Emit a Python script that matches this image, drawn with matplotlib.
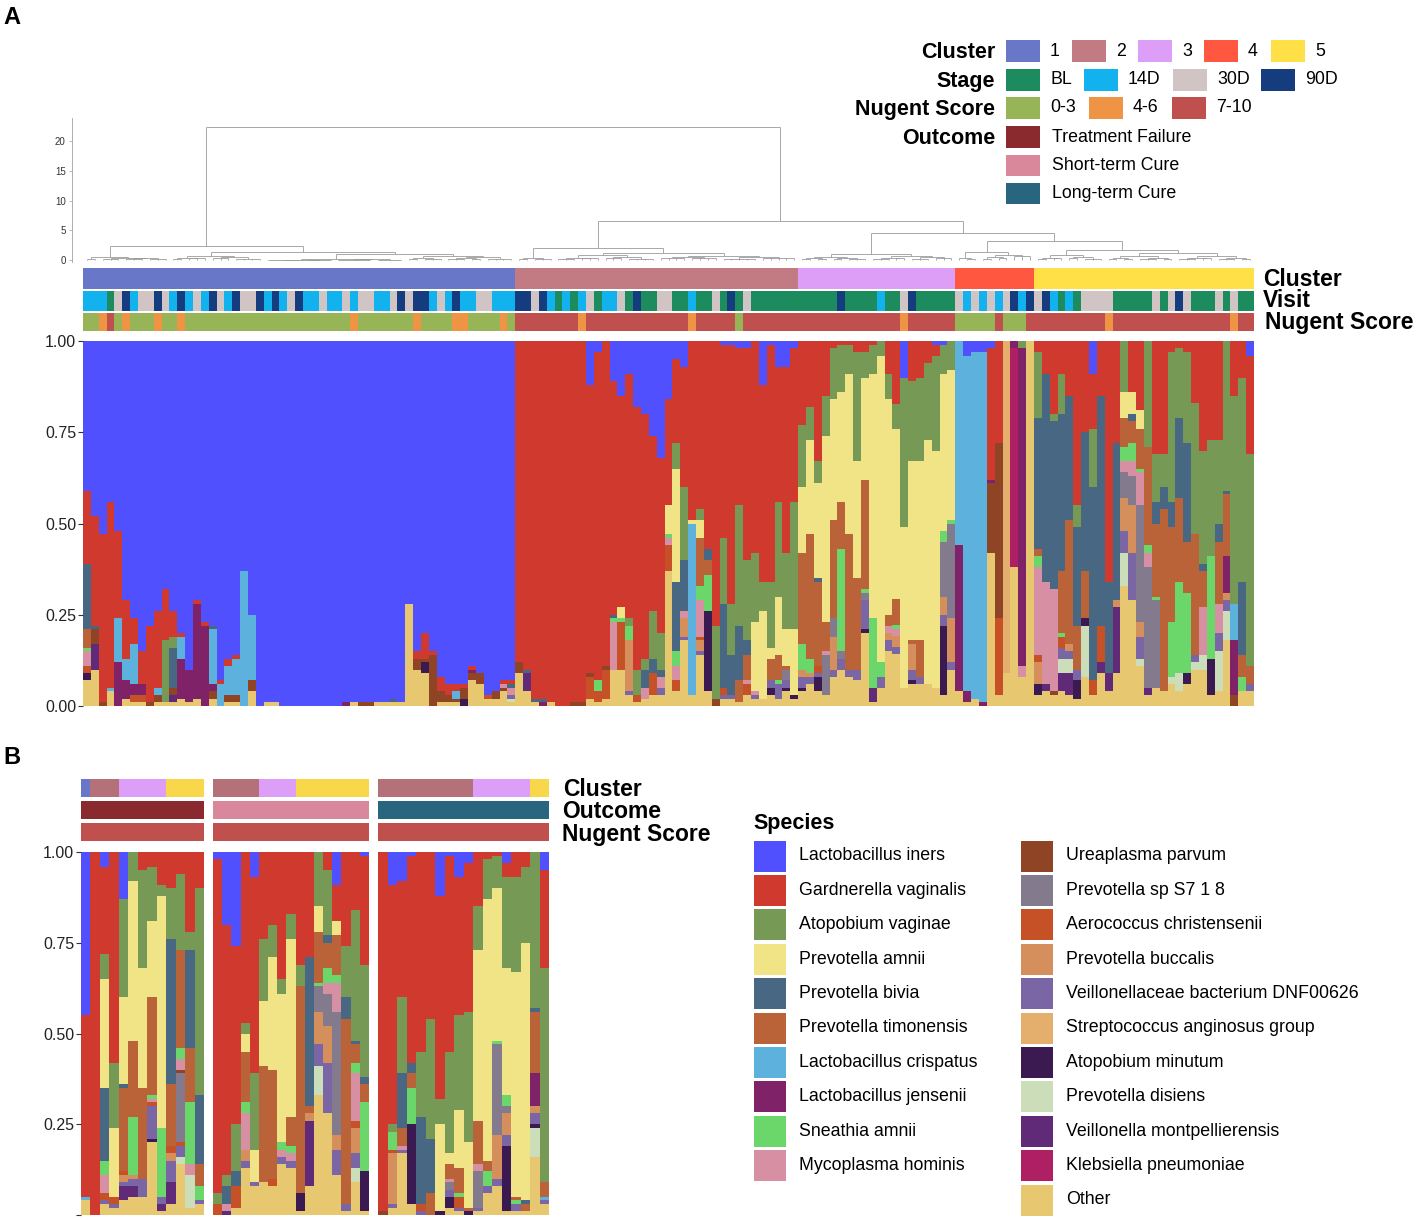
import re
import numpy as np
import matplotlib.pyplot as plt
from matplotlib.patches import Rectangle

plt.rcParams['font.family'] = ['Liberation Sans', 'DejaVu Sans']

W, H = 1417, 1220

# ---------------- data ----------------
# legend order = top of the stack first
species = ["Lactobacillus iners", "Gardnerella vaginalis", "Atopobium vaginae", "Prevotella amnii",
           "Prevotella bivia", "Prevotella timonensis", "Lactobacillus crispatus",
           "Lactobacillus jensenii", "Sneathia amnii", "Mycoplasma hominis", "Ureaplasma parvum",
           "Prevotella sp S7 1 8", "Aerococcus christensenii", "Prevotella buccalis",
           "Veillonellaceae bacterium DNF00626", "Streptococcus anginosus group",
           "Atopobium minutum", "Prevotella disiens", "Veillonella montpellierensis",
           "Klebsiella pneumoniae", "Other"]
codes = ["LI", "GV", "AV", "PA", "PB", "PT", "LC", "LJ", "SA", "MH", "UP", "PS", "AC", "BU",
         "VB", "SG", "AM", "PD", "VM", "KP", "OT"]
species_colors = ["#5050FF", "#D0392E", "#769A56", "#F1E486", "#476782", "#BA6238", "#5DB1DD",
                  "#802268", "#6BD76B", "#D68FA3", "#8F4525", "#837B8D", "#C75127", "#D58F5C",
                  "#7A65A5", "#E4AF6C", "#3A1A51", "#CCDDBA", "#612A79", "#AE1F63", "#E7C76F"]

# panel A samples (percent per species), in dendrogram order, per cluster
cluster1 = ["OT7 AM2 AC2 MH4 SA1 PT5 PB18 GV20 LI41", "OT10 VM7 UP4 PB1 GV30 LI48", "UP1 GV46 LI53",
            "OT4 LC1 GV51 LI44", "LJ12 LC12 GV24 LI52", "OT2 LJ5 LC6 GV16 LI71",
            "OT1 AC2 LJ3 LC11 GV7 LI76", "OT1 AC2 LJ3 GV9 LI85", "UP1 GV21 LI78",
            "OT1 UP2 LC2 GV21 LI74", "OT1 AV17 GV14 LI68", "OT1 VM2 UP2 PB11 AV3 GV7 LI74",
            "OT2 LJ11 LC6 GV1 LI80", "OT1 LJ9 LI90", "OT2 LJ26 GV1 LI71", "LJ22 GV1 LI77",
            "OT2 UP2 LJ2 LC15 PB1 LI78", "LC6 GV1 LI93", "OT1 UP2 LC8 GV2 LI87",
            "OT1 UP2 LC10 GV1 LI86", "LC37 LI63", "OT4 UP3 LC18 LI75",
            "LI100", "OT1 LI99", "OT1 LI99", "LI100", "LI100", "LI100", "LI100", "LI100", "LI100",
            "LI100", "LI100", "LJ1 LI99", "OT1 LI99", "UP1 LI99", "UP1 LI99", "OT1 LI99",
            "OT1 LI99", "OT1 PB1 LI98", "OT1 LI99", "OT28 LI72", "OT10 UP3 GV2 LI85",
            "OT9 AM3 UP1 GV7 LI80", "UP14 GV1 LI85", "OT1 UP3 GV4 LI92", "OT1 UP2 GV3 LI94",
            "OT1 UP1 LC2 GV2 LI94", "AM2 UP3 GV1 LI94", "OT7 UP2 LJ1 GV1 LI89", "OT6 UP3 LI91",
            "OT2 AC1 LI97", "OT2 UP2 LI96", "OT4 MH1 UP1 GV1 LI93",
            "OT1 PD1 MH2 VB1 PB1 GV1 LI93"]
cluster2 = ["OT9 UP3 GV88", "OT4 VM5 PB1 GV90", "OT1 PB1 GV98", "PB1 LJ1 GV98", "OT1 GV99",
            "GV100", "GV100", "UP1 GV99", "UP1 GV99", "OT2 AC6 UP1 GV79 LI12",
            "OT1 AC3 SA3 GV90 LI3", "OT2 AC8 UP1 GV89", "OT10 MH13 PB1 SA1 GV64 LI11",
            "OT10 AC13 SA1 PA3 GV58 LI15", "OT3 VB1 BU14 SA4 AV2 GV67 LI9",
            "OT1 AC2 AV7 GV72 LI18", "OT2 MH3 PB5 AV3 GV67 LI20", "OT3 AC6 PB4 AV13 GV48 LI26",
            "OT3 VB2 MH3 PB2 AV10 GV48 LI32", "OT37 AC7 MH2 SA1 PA8 GV29 LI16",
            "OT4 AC3 MH4 SA4 PB19 PA31 AV7 GV23 LI5", "OT18 VB1 BU5 MH2 PB14 AV20 GV33 LI7",
            "OT3 LC47 PA1 GV49", "OT14 VB1 BU3 AC1 MH10 SA4 PT13 PA5 AV3 GV46",
            "OT4 AM22 SA10 PT4 PB3 GV57", "UP2 AV20 GV78", "OT2 VB1 AC2 PB23 AV18 GV53 LI1",
            "OT2 VB1 PB11 AV14 GV71 LI1", "OT1 PT6 PB15 AV33 GV43 LI2",
            "OT3 AC3 MH1 PT7 PB4 AV22 GV58 LI2", "OT2 VB1 MH1 PA19 AV19 GV58",
            "OT2 PA24 AV8 GV54 LI12", "OT3 AM2 VB2 PT6 PA3 AV18 GV65 LI1",
            "OT2 VB4 SA1 PT7 PA16 AV26 GV37 LI7", "OT4 AM1 VB2 PS3 PT1 PA10 AV21 GV51 LI7",
            "OT2 AM1 PA18 AV35 GV42 LI2"]
cluster3 = ["OT4 AM1 VB3 BU2 SA7 PT25 PA18 AV17 GV23", "OT6 VB2 BU1 SA4 PT34 PA26 AV9 GV18",
            "OT4 AM4 VB1 AC2 PT23 PB1 PA26 AV6 GV33", "OT3 PS11 MH1 PT8 PA51 AV11 GV15",
            "OT8 VB2 BU9 PS5 PT27 PA33 AV14 GV2", "OT10 VB3 PS2 SA28 PT13 PA30 AV13 GV1",
            "OT8 VB2 PT37 PA44 AV8 GV1", "OT7 VB3 PT25 PA32 AV30 GV3",
            "OT20 AM1 VB8 PS2 SA1 PT30 PA28 AV7 GV3", "OT1 VM4 SA19 PA67 AV8 GV1",
            "OT5 VB3 SA4 PA84 AV4", "OT15 VB3 BU2 MH2 PT3 PA59 AV7 GV9",
            "OT14 VB2 BU3 MH2 SA1 PT7 PA46 AV7 GV17", "OT5 PA44 AV41 LI10",
            "OT6 AM1 VB3 BU7 PT1 PA49 AV22 GV11", "OT6 VB2 PT10 PA49 AV23 GV10",
            "OT6 PA67 AV21 GV6", "OT5 PA65 AV26 GV3 LI1",
            "OT3 AM19 VB3 BU5 PS15 SA3 PA43 AV8 LI1", "OT10 VB2 BU12 PS26 SA1 PA41 AV8"]
cluster4 = ["OT4 LJ40 LC56", "OT1 LJ3 LC92 LI4", "OT2 LC95 LI3", "LJ1 LC96 LI3",
            "OT42 UP19 LJ1 GV36 LI2", "OT3 AC21 UP48 GV28", "OT9 SG91", "OT38 KP60 LJ2",
            "OT8 MH3 LJ87 AV2", "OT100"]
cluster5 = ["OT3 AM3 BU6 AC2 MH24 SA3 PT2 PB36 AV18 GV3", "OT4 VM2 MH28 PB57 GV9",
            "OT3 UP1 MH28 PB46 AV2 GV20", "OT4 VM5 PD4 VB3 AC3 SA1 PT17 PB43 AV11 GV9",
            "OT3 VM6 PD4 VB2 BU2 PT34 PB34 GV15", "OT2 AM5 VB3 PT12 PB27 AV6 GV45",
            "OT8 AM2 PD14 PT13 PB38 GV25", "OT3 AC4 PB53 AV16 GV15 LI9",
            "OT9 VM3 AC10 PB63 GV15", "OT4 VM5 PB25 GV66", "OT9 VM18 BU2 PB43 GV28",
            "OT33 PD9 VB6 BU9 PS7 MH3 SA4 PT8 PA7 AV14",
            "OT29 VB13 BU13 PS8 MH4 SA5 PT6 PB2 PA6 GV14",
            "OT11 PD2 VB6 BU4 PS32 MH9 SA1 PT11 PA5 GV19", "OT3 VM2 PS33 MH4 SA2 PT27 AV29",
            "OT5 PS24 SA1 PT20 PB6 AV13 GV31", "OT4 PT50 PB6 AV9 GV31",
            "OT6 PD2 SA15 PT26 PB7 AV41 GV3", "OT4 PD5 SA25 PT23 PB22 AV19 GV2",
            "OT6 AM3 SA22 PT14 PB27 AV25 GV3", "OT10 PD2 VB2 PT33 AV36 GV17",
            "OT10 PD4 MH13 PT10 PB2 AV31 GV30", "OT3 AM10 SA28 AV32 GV27",
            "OT4 PD11 VB5 MH8 PT17 PB5 AV23 GV27", "OT18 PD8 VB3 BU2 LJ10 PT17 PB1 AV41",
            "UP3 LJ15 LC10 AV57 GV15", "OT4 SA4 PT6 PB20 AV56 GV10", "OT4 VB2 PT5 AV58 GV27 LI4"]

# visit: b=BL f=14D t=30D n=90D ; nugent: g=0-3 o=4-6 r=7-10
visit_a = ("fffbtnfttntfnftfntfnttnfnftnfftfftfttfftntnnftfnffttfff"
           "nntnfbfbftbfftbnbbttbbfbbtbnbtbbbbbb"
           "bbbbbnbbbbfbbtnbbbbb"
           "tftftftnfn"
           "tnfbfbttttbbbbbtbtntbbbtbtbb")
nugent_a = ("ggorgogggoggo" + "g" * 21 + "o" + "g" * 7 + "o" + "gggg" + "oo" + "gggg" + "og"
            + "r" * 8 + "o" + "r" * 13 + "o" + "r" * 5 + "g" + "r" * 7
            + "r" * 13 + "o" + "r" * 6
            + "gggggrgggr"
            + "r" * 9 + "o" + "r" * 15 + "o" + "rr")

# dendrogram: (height, [children]) or (height, n leaves joined at that height)
tree = (22.4, [
    (2.35, [
        (0.5, [(0.25, 2), (0.4, [(0.2, 3), (0.3, [(0.15, 3), (0.2, 3)])])]),
        (1.3, [
            (0.75, [(0.4, [(0.2, 2), (0.3, 3)]), (0.5, [(0.3, 3), (0.25, 4)])]),
            (1.0, [(0.25, [(0.05, [(0.02, 5), (0.03, 4)]), (0.1, [(0.04, 5), (0.05, 4)])]),
                   (0.6, [(0.3, [(0.2, 2), (0.15, 3)]),
                          (0.45, [(0.3, [(0.2, 3), (0.15, 2)]), (0.2, 4)])])])])]),
    (6.55, [
        (2.0, [(0.4, [(0.1, 2), (0.2, 3)]),
               (1.2, [(0.8, [(0.4, [(0.2, 3), (0.3, 3)]), (0.5, [(0.3, 3), (0.25, 4)])]),
                      (0.7, [(0.5, [(0.3, 4), (0.3, 4)]), (0.5, [(0.2, 5), (0.3, 5)])])])]),
        (4.5, [
            (1.0, [(0.5, [(0.3, [(0.15, 2), (0.2, 2)]), (0.35, [(0.2, 2), (0.25, 3)])]),
                   (0.6, [(0.4, [(0.2, 3), (0.3, 2)]), (0.45, [(0.2, 3), (0.3, 3)])])]),
            (3.2, [
                (1.3, [(0.3, [(0.0, 1), (0.2, 2)]),
                       (0.9, [(0.5, [(0.2, 2), (0.3, 2)]), (0.6, 3)])]),
                (1.7, [(0.8, [(0.4, [(0.2, 2), (0.3, 2)]), (0.5, [(0.3, 2), (0.2, 3)])]),
                       (1.1, [(0.6, [(0.3, [(0.15, 2), (0.2, 2)]), (0.4, [(0.2, 3), (0.15, 2)])]),
                              (0.7, [(0.4, [(0.2, 3), (0.3, 2)]), (0.3, [(0.2, 3), (0.1, 2)])])])])])])])])

# panel B: three outcome groups
group_fail = ["OT4 LC1 GV50 LI45", "GV100", "OT3 VB1 AC2 MH5 SA4 PB20 PA30 AV7 GV24 LI4",
              "OT2 VB1 AC2 PA19 AV18 GV58", "OT4 VM4 VB1 BU2 AC1 PT23 PB1 PA24 AV27 LI13",
              "OT5 VM3 VB2 BU1 SA16 PT21 PA44 AV8", "OT5 VB5 PT25 PA33 AV27 GV5",
              "OT20 AM1 VB9 AC1 MH1 SA1 PT27 PA21 AV15 GV4", "OT1 VM2 VB2 SA19 PA64 AV3 GV9",
              "OT3 VM6 VB6 BU2 AC2 PT17 PB40 AV14 GV10",
              "OT14 PD2 VB3 AC1 PS19 UP1 MH3 SA3 PT27 AV21 GV6",
              "OT2 PD9 MH3 SA17 PT15 PB27 AV5 GV22", "OT3 VB1 SA4 PT6 PB19 AV57 GV10"]
group_short = ["AC3 AV3 GV92 LI2", "VM1 MH2 PB5 AV3 GV69 LI20", "OT2 AC6 PB4 AV13 GV49 LI26",
               "OT13 VB2 BU3 MH10 SA3 PT14 PA5 AV3 GV47", "OT8 VB1 PA9 AV21 GV54 LI7",
               "OT9 PT32 PA18 AV17 GV24", "OT8 AC2 PT30 PA31 AV9 GV20",
               "OT14 VB2 MH2 SA2 PA41 AV4 GV35", "OT13 VB2 MH2 SA2 PT8 PA49 AV7 GV17",
               "OT1 AM5 PT57 AV6 GV31", "OT8 VM18 BU2 PT2 PB41 GV29",
               "OT33 PD8 VB6 BU9 PS7 SA1 PT14 PA7 AV15",
               "OT28 VB14 BU10 PS9 MH3 SA4 PT7 PB2 AV18 GV5",
               "OT11 VB7 BU4 PS34 MH8 SA2 PT11 PA4 GV10 LI9", "OT1 VB2 PT51 PB6 AV14 GV26",
               "OT9 PD4 VB4 BU7 AC2 MH13 SA3 PB1 PT5 AV36 GV16",
               "OT1 AM11 SA19 PT5 PB2 AV31 GV30 LI1"]
group_long = ["UP1 GV99", "OT2 VB1 BU14 AC1 SA5 AV2 GV66 LI9",
              "OT17 VB1 PT5 MH1 PB15 AV21 GV32 LI8", "OT3 AM22 SA10 PT4 PB3 GV57 LI1",
              "VB1 AC2 PB24 AV18 GV55", "PT6 PB15 AV33 GV46", "AM1 PA24 AV7 GV56 LI12",
              "OT2 AM3 VB2 PS2 MH1 PT4 PA3 AV28 GV54 LI1",
              "OT1 VB1 AC3 SA1 PT7 PA16 AV26 GV38 LI7", "AM1 PT1 PA18 AV36 GV41 LI3",
              "OT1 VB1 PS10 MH2 PT12 PA47 AV12 GV15", "OT6 VB2 SA4 PT3 PA72 AV11 GV2",
              "OT8 VB2 BU12 PS25 SA1 PA42 AV9 GV1",
              "OT1 AM18 VB3 BU6 PS2 SA3 PA35 AV25 GV4 LI3", "OT1 VB2 SA1 PT1 PA62 AV26 GV7",
              "OT1 PT2 PB1 PA71 AV21 GV4", "OT16 PD8 AM1 VB3 BU2 LJ9 PT17 PB1 AV43",
              "OT3 VB1 LC1 PT4 AV59 GV27 LI5"]
cluster_b = ["1222333335555", "22222333355555555", "222222222233333355"]

cluster_colors = {"1": "#6877C7", "2": "#C27B82", "3": "#DD9EF8", "4": "#FF5740", "5": "#FFE047"}
cluster_colors_b = {"1": "#6877C7", "2": "#B4717A", "3": "#DD9EF8", "5": "#F8D84A"}
visit_colors = {"b": "#1C8C5E", "f": "#12B2EE", "t": "#D0C4C4", "n": "#143C7E"}
nugent_colors = {"g": "#97B556", "o": "#EF9444", "r": "#C0504D"}
outcome_colors = ["#8B2A2E", "#D9879B", "#286680"]


# ---------------- helpers ----------------
def parse(s):
    d = {k: float(v) for k, v in re.findall(r"([A-Z]{2})(\d+)", s)}
    return [d.get(c, 0.0) for c in codes]


fig = plt.figure(figsize=(W / 100, H / 100), dpi=100)


def add_ax(x0, y0, x1, y1):
    return fig.add_axes([x0 / W, 1 - y1 / H, (x1 - x0) / W, (y1 - y0) / H])


def ftext(x, y, s, **kw):
    fig.text(x / W, 1 - y / H, s, **kw)


def swatch(x, y, w, h, c):
    fig.add_artist(Rectangle((x / W, 1 - (y + h) / H), w / W, h / H, transform=fig.transFigure,
                             facecolor=c, edgecolor="none"))


def stack(ax, rows):
    M = np.array([parse(s) for s in rows])
    M = M / M.sum(axis=1, keepdims=True)
    x = np.arange(len(rows))
    bottom = np.zeros(len(rows))
    for j in reversed(range(len(codes))):
        ax.bar(x, M[:, j], bottom=bottom, width=1.0, color=species_colors[j],
               linewidth=0, antialiased=False)
        bottom += M[:, j]
    ax.set_xlim(-0.5, len(rows) - 0.5)
    ax.set_ylim(0, 1)
    for s in ax.spines.values():
        s.set_visible(False)
    ax.set_xticks([])


def annot(ax, cols):
    x = np.arange(len(cols))
    ax.bar(x, 1, width=1.0, color=cols, linewidth=0, antialiased=False)
    ax.set_xlim(-0.5, len(cols) - 0.5)
    ax.set_ylim(0, 1)
    ax.axis("off")


def draw_tree(ax, node, start):
    h, kids = node
    if isinstance(kids, int):
        xs = np.arange(start, start + kids)
        if kids > 1:
            ax.vlines(xs, 0, h, color="#9a9a9a", lw=0.6)
            ax.hlines(h, xs[0], xs[-1], color="#9a9a9a", lw=0.6)
        return xs.mean(), h, start + kids
    centers, tops = [], []
    for k in kids:
        c, t, start = draw_tree(ax, k, start)
        centers.append(c)
        tops.append(t)
    ax.vlines(centers, tops, h, color="#9a9a9a", lw=0.6)
    ax.hlines(h, min(centers), max(centers), color="#9a9a9a", lw=0.6)
    return np.mean(centers), h, start


# ---------------- panel A ----------------
samples_a = cluster1 + cluster2 + cluster3 + cluster4 + cluster5
clusters_a = (["1"] * len(cluster1) + ["2"] * len(cluster2) + ["3"] * len(cluster3)
              + ["4"] * len(cluster4) + ["5"] * len(cluster5))
n_a = len(samples_a)

ax_d = add_ax(83, 118, 1254, 262)
draw_tree(ax_d, tree, 0)
ax_d.set_xlim(-0.5, n_a - 0.5)
ax_d.set_ylim(-0.336, 23.87)
for k in ["top", "right", "bottom"]:
    ax_d.spines[k].set_visible(False)
ax_d.spines["left"].set_position(("outward", 8))
ax_d.spines["left"].set_color("#a0a0a0")
ax_d.spines["left"].set_linewidth(0.6)
ax_d.set_xticks([])
ax_d.set_yticks([0, 5, 10, 15, 20])
ax_d.tick_params(axis="y", labelsize=7, length=2.5, width=0.5, color="#a0a0a0",
                 labelcolor="#333333", pad=2)

annot(add_ax(83, 268, 1254, 289), [cluster_colors[c] for c in clusters_a])
annot(add_ax(83, 291, 1254, 311), [visit_colors[c] for c in visit_a])
annot(add_ax(83, 313, 1254, 331), [nugent_colors[c] for c in nugent_a])

ax_a = add_ax(83, 341, 1254, 706)
stack(ax_a, samples_a)
ax_a.set_yticks([0, 0.25, 0.5, 0.75, 1.0])
ax_a.set_yticklabels(["0.00", "0.25", "0.50", "0.75", "1.00"])
ax_a.tick_params(axis="y", labelsize=11.5, length=3.5, width=0.8, color="#333333",
                 labelcolor="#222222", pad=1.5)

bold = dict(fontsize=16.5, fontweight="bold", va="center", ha="left")
ftext(1263, 279, "Cluster", **bold)
ftext(1263, 300, "Visit", **bold)
ftext(1265, 322, "Nugent Score", **bold)

# top legend
ttl = dict(fontsize=15.5, fontweight="bold", va="center", ha="right")
lab = dict(fontsize=12.8, va="center", ha="left")
rows_y = [51, 80, 108, 137, 165, 193]
ftext(995, rows_y[0] + 2, "Cluster", **ttl)
ftext(995, rows_y[1] + 2, "Stage", **ttl)
ftext(995, rows_y[2] + 2, "Nugent Score", **ttl)
ftext(995, rows_y[3] + 2, "Outcome", **ttl)
for x, (k, c) in zip([1006, 1072, 1138, 1204, 1271], cluster_colors.items()):
    swatch(x, rows_y[0] - 10.5, 34, 21, c)
    ftext(x + 44, rows_y[0], k, **lab)
for x, k, c in zip([1006, 1084, 1173, 1261], ["BL", "14D", "30D", "90D"], visit_colors.values()):
    swatch(x, rows_y[1] - 10.5, 34, 21, c)
    ftext(x + 44, rows_y[1], k, **lab)
for x, k, c in zip([1006, 1089, 1172], ["0-3", "4-6", "7-10"], nugent_colors.values()):
    swatch(x, rows_y[2] - 10.5, 34, 21, c)
    ftext(x + 44, rows_y[2], k, **lab)
for y, k, c in zip(rows_y[3:], ["Treatment Failure", "Short-term Cure", "Long-term Cure"],
                   outcome_colors):
    swatch(1006, y - 10.5, 34, 21, c)
    ftext(1052, y, k, **lab)

# ---------------- panel B ----------------
groups = [group_fail, group_short, group_long]
spans = [(81, 204), (213, 369), (378, 549)]
for i, (rows, (x0, x1)) in enumerate(zip(groups, spans)):
    annot(add_ax(x0, 779, x1, 797), [cluster_colors_b[c] for c in cluster_b[i]])
    annot(add_ax(x0, 801, x1, 819), [outcome_colors[i]] * len(rows))
    annot(add_ax(x0, 823, x1, 841), [nugent_colors["r"]] * len(rows))
    ax = add_ax(x0, 852, x1, 1215)
    stack(ax, rows)
    if i == 0:
        ax.set_yticks([0, 0.25, 0.5, 0.75, 1.0])
        ax.set_yticklabels(["", "0.25", "0.50", "0.75", "1.00"])
        ax.tick_params(axis="y", labelsize=11.5, length=3.5, width=0.8, color="#333333",
                       labelcolor="#222222", pad=1.5)
    else:
        ax.set_yticks([])

ftext(563, 789, "Cluster", **bold)
ftext(562, 812, "Outcome", **bold)
ftext(562, 834, "Nugent Score", **bold)

# species legend
ftext(753, 823, "Species", fontsize=15.5, fontweight="bold", va="center", ha="left")
for i, (name, c) in enumerate(zip(species, species_colors)):
    col, row = (0, i) if i < 10 else (1, i - 10)
    sx = 754 if col == 0 else 1021
    yc = 856 + 34.4 * row
    swatch(sx, yc - 15.5, 32, 31, c)
    ftext(sx + 45, yc, name, **lab)

ftext(3, 17, "A", fontsize=17, fontweight="bold", va="center", ha="left")
ftext(3, 757, "B", fontsize=17, fontweight="bold", va="center", ha="left")

fig.savefig("out.png", dpi=100)
